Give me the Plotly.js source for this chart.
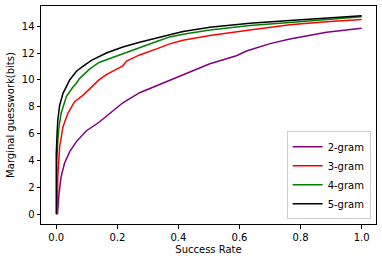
<!DOCTYPE html>
<html>
<head>
<meta charset="utf-8">
<script src="https://cdn.plot.ly/plotly-3.0.1.min.js"></script>
<style>html,body{margin:0;padding:0;background:#fff;}#chart{width:382px;height:262px;}</style>
</head>
<body>
<div id="chart"></div>
<script>
const seriesNames = ["2-gram", "3-gram", "4-gram", "5-gram"];
const seriesColors = ["#800080", "#ff0000", "#008000", "#000000"];

const x2 = [0.004, 0.006, 0.009, 0.016, 0.027, 0.044, 0.066, 0.098, 0.12, 0.14, 0.164, 0.218, 0.273, 0.333, 0.372, 0.437, 0.503, 0.59, 0.623, 0.70, 0.765, 0.885, 1.0];
const y2 = [0, 0.8, 1.56, 2.8, 3.8, 4.66, 5.41, 6.2, 6.55, 6.85, 7.3, 8.3, 9.05, 9.6, 10.0, 10.6, 11.2, 11.8, 12.15, 12.7, 13.05, 13.55, 13.85];

const x3 = [0.003, 0.004, 0.005, 0.011, 0.022, 0.038, 0.06, 0.087, 0.115, 0.14, 0.164, 0.2, 0.218, 0.23, 0.273, 0.333, 0.372, 0.415, 0.503, 0.634, 0.765, 0.885, 1.0];
const y3 = [0, 1.5, 2.8, 5.03, 6.52, 7.52, 8.38, 8.85, 9.45, 10.0, 10.4, 10.85, 11.05, 11.4, 11.86, 12.35, 12.68, 12.95, 13.3, 13.72, 14.1, 14.32, 14.5];

const x4 = [0.002, 0.002, 0.005, 0.009, 0.016, 0.033, 0.054, 0.066, 0.076, 0.109, 0.14, 0.164, 0.218, 0.273, 0.333, 0.372, 0.415, 0.503, 0.634, 0.765, 0.885, 1.0];
const y4 = [0, 4.0, 5.5, 6.52, 7.52, 8.76, 9.45, 9.75, 10.1, 10.8, 11.3, 11.5, 12.0, 12.45, 12.9, 13.2, 13.4, 13.72, 14.04, 14.27, 14.5, 14.7];

const x5 = [0.0, 0.0, 0.003, 0.005, 0.011, 0.022, 0.044, 0.066, 0.087, 0.115, 0.164, 0.218, 0.273, 0.333, 0.372, 0.415, 0.503, 0.634, 0.765, 0.885, 1.0];
const y5 = [0, 4.5, 6.2, 7.0, 8.1, 9.0, 10.0, 10.65, 11.0, 11.45, 12.0, 12.45, 12.8, 13.15, 13.4, 13.6, 13.92, 14.22, 14.42, 14.6, 14.78];

const xTicks = [0.0, 0.2, 0.4, 0.6, 0.8, 1.0];
const xTickLabels = ["0.0", "0.2", "0.4", "0.6", "0.8", "1.0"];
const yTicks = [0, 2, 4, 6, 8, 10, 12, 14];

const xs = [x2, x3, x4, x5];
const ys = [y2, y3, y4, y5];

const traces = seriesNames.map((n, i) => ({
  x: xs[i], y: ys[i], name: n, type: "scatter", mode: "lines",
  line: {color: seriesColors[i], width: 1.5}
}));

const font = {family: "DejaVu Sans", size: 10, color: "#000"};
const axisCommon = {
  showline: true, mirror: true, linecolor: "#000", linewidth: 1,
  ticks: "outside", ticklen: 3.5, tickwidth: 1, tickcolor: "#000",
  showgrid: false, zeroline: false, tickfont: font
};

const layout = {
  width: 382, height: 262,
  margin: {l: 41, r: 6, t: 6, b: 38},
  paper_bgcolor: "#fff", plot_bgcolor: "#fff",
  font: font,
  showlegend: true,
  xaxis: Object.assign({}, axisCommon, {
    range: [-0.05, 1.047], tickvals: xTicks, ticktext: xTickLabels,
    title: {text: "Success Rate", font: font, standoff: 4}
  }),
  yaxis: Object.assign({}, axisCommon, {
    range: [-0.72, 15.5], tickvals: yTicks,
    title: {text: "Marginal guesswork(bits)", font: font, standoff: 5}
  }),
  legend: {
    x: 0.984, y: 0.022, xanchor: "right", yanchor: "bottom",
    bgcolor: "rgba(255,255,255,0.8)", bordercolor: "#cccccc", borderwidth: 1,
    font: font, tracegroupgap: 0, itemwidth: 30
  }
};

Plotly.newPlot("chart", traces, layout, {staticPlot: true, displayModeBar: false});
</script>
</body>
</html>
